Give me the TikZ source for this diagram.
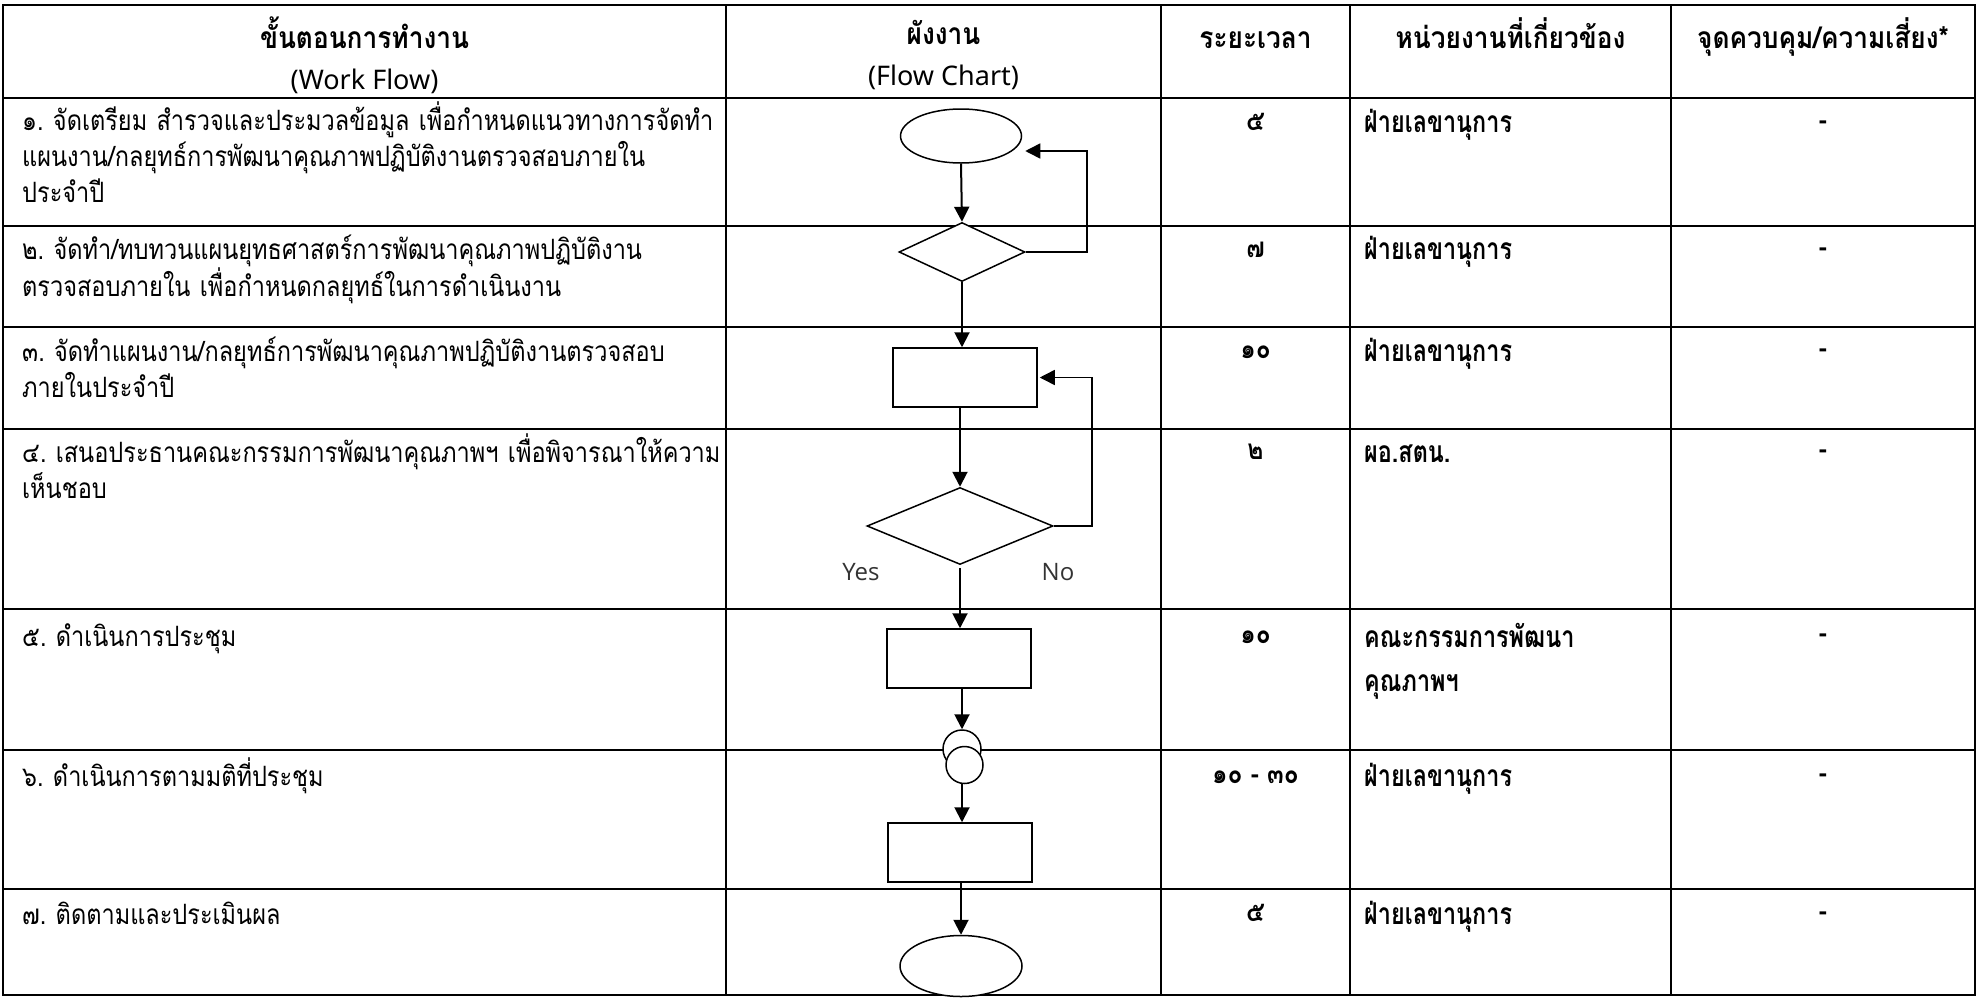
\documentclass[tikz,border=0pt]{standalone}
\usepackage{fontspec}
\usetikzlibrary{shapes.geometric,arrows.meta}
\newfontfamily\thr[Script=Thai,FakeStretch=0.84]{Loma}
\newfontfamily\thh[Script=Thai,FakeStretch=0.875]{Loma}
\newfontfamily\thu[Script=Thai,FakeStretch=0.78]{Loma}
\newfontfamily\latn{Noto Sans}
\newfontfamily\yn{Open Sans}
\begin{document}
\frenchspacing
\begin{tikzpicture}[x=1bp,y=-1bp,
  grid/.style={line width=2bp},
  shp/.style={draw, line width=1.5bp, fill=white, inner sep=0pt},
  arr/.style={line width=2bp, -{Triangle[length=15bp,width=15bp]}},
  back/.style={line width=1.5bp, -{Triangle[length=15bp,width=15bp]}},
  body/.style={font={\frenchspacing\thr\fontsize{28bp}{36bp}\selectfont}, inner sep=0pt, anchor=mid west, align=left, text width=700bp},
  unit/.style={font={\frenchspacing\thu\bfseries\fontsize{30bp}{44bp}\selectfont}, inner sep=0pt, anchor=mid west, align=left, text width=300bp},
  cell/.style={font={\thh\bfseries\fontsize{28bp}{36bp}\selectfont}, inner sep=0pt, anchor=mid},
  hdr/.style={font={\thh\bfseries\fontsize{30bp}{41bp}\selectfont}, inner sep=0pt, align=center},
  yn/.style={font={\yn\fontsize{24bp}{28bp}\selectfont}, text=black!80, inner sep=0pt}
]
\useasboundingbox (0,0) rectangle (1979,998);
% table grid
\draw[grid] (3,5) rectangle (1975,995);
\foreach \xx in {726,1161,1350,1671} \draw[grid] (\xx,5) -- (\xx,995);
\foreach \yy in {98,226,327,429,609,750,889} \draw[grid] (3,\yy) -- (1975,\yy);

% header
\node[hdr] (h1) at (364.5,55) {ขั้นตอนการทำงาน\\{\latn\fontsize{27bp}{41bp}\selectfont (Work Flow)}};
\node[hdr] (h2) at (943.5,55) {ผังงาน\\{\latn\fontsize{27bp}{41bp}\selectfont (Flow Chart)}};
\node[hdr, anchor=mid] (h3) at (1255.5,46) {ระยะเวลา};
\node[hdr, anchor=mid] (h4) at (1510.5,46) {หน่วยงานที่เกี่ยวข้อง};
\node[hdr, anchor=mid] (h5) at (1823,46) {จุดควบคุม/ความเสี่ยง*};

% column 1
\node[body] (t1) at (22,128) {๑. จัดเตรียม สำรวจและประมวลข้อมูล เพื่อกำหนดแนวทางการจัดทำ\\แผนงาน/กลยุทธ์การพัฒนาคุณภาพปฏิบัติงานตรวจสอบภายใน\\ประจำปี};
\node[body] (t2) at (22,257) {๒. จัดทำ/ทบทวนแผนยุทธศาสตร์การพัฒนาคุณภาพปฏิบัติงาน\\ตรวจสอบภายใน เพื่อกำหนดกลยุทธ์ในการดำเนินงาน};
\node[body] (t3) at (22,359) {๓. จัดทำแผนงาน/กลยุทธ์การพัฒนาคุณภาพปฏิบัติงานตรวจสอบ\\ภายในประจำปี};
\node[body] (t4) at (22,460) {๔. เสนอประธานคณะกรรมการพัฒนาคุณภาพฯ เพื่อพิจารณาให้ความ\\เห็นชอบ};
\node[body] (t5) at (22,644) {๕. ดำเนินการประชุม};
\node[body] (t6) at (22,784) {๖. ดำเนินการตามมติที่ประชุม};
\node[body] (t7) at (22,922) {๗. ติดตามและประเมินผล};

% column 3
\node[cell] (n1) at (1255.5,128) {๕};
\node[cell] (n2) at (1255.5,255) {๗};
\node[cell] (n3) at (1255.5,356) {๑๐};
\node[cell] (n4) at (1255.5,457) {๒};
\node[cell] (n5) at (1255.5,641) {๑๐};
\node[cell] (n6) at (1255.5,781) {๑๐ - ๓๐};
\node[cell] (n7) at (1255.5,919) {๕};

% column 4
\node[unit] (u1) at (1364,130) {ฝ่ายเลขานุการ};
\node[unit] (u2) at (1364,257) {ฝ่ายเลขานุการ};
\node[unit] (u3) at (1364,359) {ฝ่ายเลขานุการ};
\node[unit] (u4) at (1364,460) {ผอ.สตน.};
\node[unit] (u5) at (1364,645) {คณะกรรมการพัฒนา\\คุณภาพฯ};
\node[unit] (u6) at (1364,784) {ฝ่ายเลขานุการ};
\node[unit] (u7) at (1364,922) {ฝ่ายเลขานุการ};

% column 5
\node[cell] (k1) at (1823,127) {-};
\node[cell] (k2) at (1823,254) {-};
\node[cell] (k3) at (1823,355) {-};
\node[cell] (k4) at (1823,456) {-};
\node[cell] (k5) at (1823,640) {-};
\node[cell] (k6) at (1823,780) {-};
\node[cell] (k7) at (1823,918) {-};

% flow chart
\node[shp, ellipse, minimum width=121bp, minimum height=54bp] (e1) at (961,136) {};
\node[shp, diamond, minimum width=126bp, minimum height=59bp] (d1) at (962,252) {};
\node[shp, rectangle, minimum width=144bp, minimum height=59bp] (r1) at (965,377.5) {};
\node[shp, diamond, minimum width=186bp, minimum height=77bp] (d2) at (960,526) {};
\node[shp, rectangle, minimum width=144bp, minimum height=59bp] (r2) at (959,658.5) {};
\node[shp, circle, minimum size=38bp] (c1) at (962,749) {};
\node[shp, circle, minimum size=37bp] (c2) at (964.5,765) {};
\node[shp, rectangle, minimum width=144bp, minimum height=59bp] (r3) at (960,852.5) {};
\node[shp, ellipse, minimum width=122bp, minimum height=61bp] (e2) at (961,966) {};

\node[yn] (yes) at (861,572) {Yes};
\node[yn] (no) at (1058,572) {No};

\draw[arr] (e1.south) -- (d1.north);
\draw[back] (d1.east) -- ++(61,0) |- ([yshift=-15bp,xshift=3bp]e1.east);
\draw[arr] (d1.south) -- (r1.north -| d1.south);
\draw[back] (d2.east) -- ++(38,0) |- ([xshift=2bp]r1.east);
\draw[arr] (r1.south -| d2.north) -- (d2.north);
\draw[arr, shorten <=3bp] (d2.south) -- (r2.north -| d2.south);
\draw[arr] (r2.south -| c1.north) -- (c1.north);
\draw[arr] (c2.south -| 962,0) -- (r3.north -| 962,0);
\draw[arr] (r3.south -| e2.north) -- (e2.north);
\end{tikzpicture}
\end{document}
